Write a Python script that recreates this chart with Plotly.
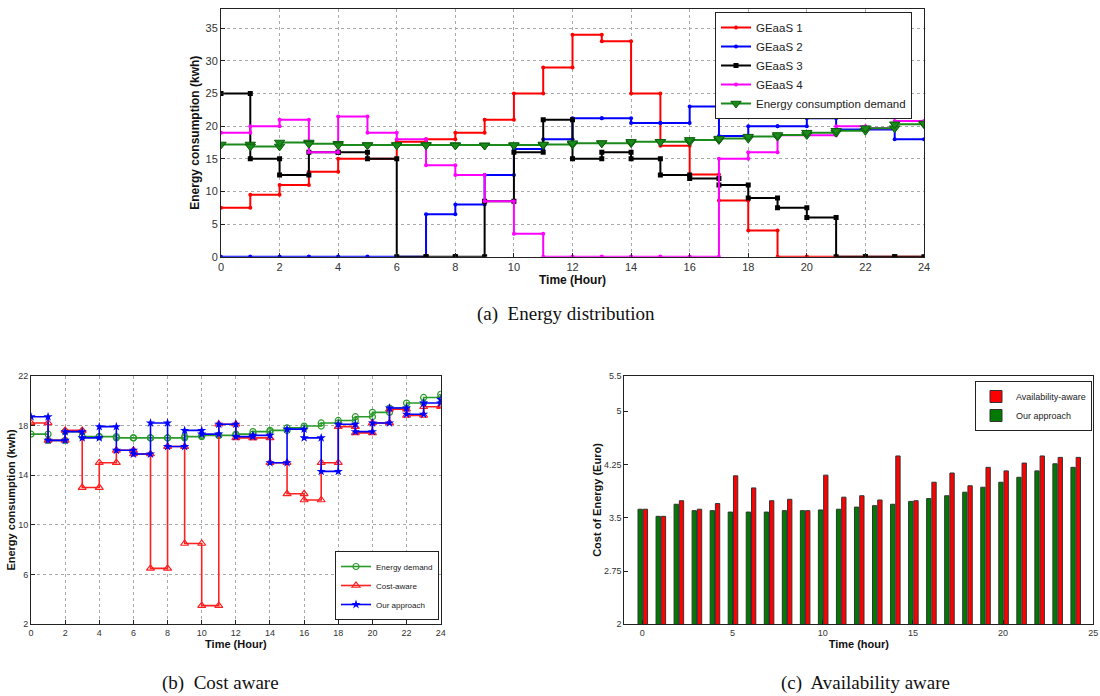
import plotly.graph_objects as go

# ---------------- data ----------------
hours_a = list(range(25))
geaas1 = [7.5, 9.5, 11, 13, 15, 15, 17.6, 18, 19, 21, 25, 29, 34, 33, 25, 17, 12.6, 8.6, 4, 0, 0, 0, 0, 0]
geaas2 = [0, 0, 0, 0, 0, 0, 0, 6.5, 8, 12.5, 16.5, 18, 21.2, 21.2, 20.5, 20.5, 23, 18.5, 20, 20, 21.2, 19.5, 19.5, 18]
geaas3 = [25, 15, 12.5, 16, 16, 15, 0, 0, 0, 8.5, 16, 21, 15, 16, 15, 12.5, 12, 11, 9, 7.5, 6, 0, 0, 0]
geaas4 = [19, 20, 21, 16, 21.5, 19, 18, 14, 12.5, 8.5, 3.5, 0, 0, 0, 0, 0, 0, 15, 16, 18.6, 18.6, 20, 19.7, 20.8]
demand_a = [17.2, 16.9, 17.5, 17.3, 17.1, 17.1, 17.1, 17.1, 17.05, 17.05, 17.1, 17.2, 17.4, 17.4, 17.6, 17.6, 17.9, 18.1, 18.4, 18.65, 19.0, 19.3, 19.7, 20.3, 20.4]

demand_b = [17.3, 16.8, 17.5, 17.1, 17.1, 17.0, 17.0, 17.0, 17.0, 17.1, 17.2, 17.2, 17.3, 17.5, 17.6, 17.8, 17.95, 18.2, 18.4, 18.7, 19.05, 19.4, 19.8, 20.25, 20.5]
cost_aware = [18.2, 16.8, 17.6, 13.0, 15.0, 16.0, 15.7, 6.5, 16.3, 8.5, 3.5, 18.1, 17.0, 17.0, 15.0, 12.5, 12.0, 15.0, 17.9, 17.4, 18.2, 19.3, 18.8, 19.5, 19.6]
our_b = [18.7, 16.8, 17.5, 17.0, 17.9, 16.0, 15.7, 18.2, 16.3, 17.6, 17.3, 18.1, 17.1, 17.2, 15.0, 17.7, 17.0, 14.3, 18.1, 17.5, 18.2, 19.4, 18.9, 19.8, 20.1]

hours_c = list(range(25))
our_c = [3.62, 3.52, 3.69, 3.60, 3.60, 3.58, 3.58, 3.58, 3.60, 3.60, 3.61, 3.62, 3.65, 3.67, 3.69, 3.73, 3.77, 3.81, 3.86, 3.93, 4.00, 4.07, 4.16, 4.26, 4.21]
avail_c = [3.62, 3.52, 3.74, 3.62, 3.70, 4.09, 3.92, 3.74, 3.76, 3.60, 4.10, 3.79, 3.81, 3.75, 4.37, 3.74, 4.00, 4.13, 3.95, 4.21, 4.16, 4.27, 4.37, 4.35, 4.35]


def stair(vals):
    """Step path with a vertex at both corners of every hour."""
    xs, ys = [], []
    n = len(vals)
    steps = n if n == 24 else n - 1
    for i in range(steps):
        xs += [i, i + 1]
        ys += [vals[i], vals[i]]
    if n == 25:
        xs.append(24)
        ys.append(vals[24])
    return xs, ys


fig = go.Figure()

# ---------------- (a) ----------------
series_a = [
    ("GEaaS 1", geaas1, "#ff0000", "circle", 4),
    ("GEaaS 2", geaas2, "#0000ff", "circle", 4),
    ("GEaaS 3", geaas3, "#000000", "square", 5),
    ("GEaaS 4", geaas4, "#ff00ff", "circle", 4),
]
for name, vals, col, sym, sz in series_a:
    xs, ys = stair(vals)
    fig.add_trace(go.Scatter(x=xs, y=ys, name=name, mode="lines+markers",
                             line=dict(color=col, width=2),
                             marker=dict(symbol=sym, size=sz, color=col),
                             xaxis="x", yaxis="y", legend="legend"))
xs, ys = stair(demand_a)
fig.add_trace(go.Scatter(x=xs, y=ys, name="Energy consumption demand", mode="lines+markers",
                         line=dict(color="#1a8a1a", width=2),
                         marker=dict(symbol="triangle-down", size=9, color="#1a8a1a",
                                     line=dict(color="#0b5e0b", width=1)),
                         xaxis="x", yaxis="y", legend="legend"))

# ---------------- (b) ----------------
xs, ys = stair(demand_b)
fig.add_trace(go.Scatter(x=xs, y=ys, name="Energy demand", mode="lines+markers",
                         line=dict(color="#2a9a2a", width=1.6),
                         marker=dict(symbol="circle-open", size=6, color="#2a9a2a", line=dict(width=1.2)),
                         xaxis="x2", yaxis="y2", legend="legend2"))
xs, ys = stair(cost_aware)
fig.add_trace(go.Scatter(x=xs, y=ys, name="Cost-aware", mode="lines+markers",
                         line=dict(color="#ff2020", width=1.6),
                         marker=dict(symbol="triangle-up-open", size=7, color="#ff2020", line=dict(width=1.2)),
                         xaxis="x2", yaxis="y2", legend="legend2"))
xs, ys = stair(our_b)
fig.add_trace(go.Scatter(x=xs, y=ys, name="Our approach", mode="lines+markers",
                         line=dict(color="#0000ff", width=1.6),
                         marker=dict(symbol="star", size=7, color="#0000ff"),
                         xaxis="x2", yaxis="y2", legend="legend2"))

# ---------------- (c) ----------------
fig.add_trace(go.Bar(x=hours_c, y=avail_c, name="Availability-aware", base=0,
                     marker=dict(color="#ff0000", line=dict(color="#333333", width=1)),
                     offset=0.05, width=0.24, xaxis="x3", yaxis="y3", legend="legend3"))
fig.add_trace(go.Bar(x=hours_c, y=our_c, name="Our approach", base=0,
                     marker=dict(color="#007a00", line=dict(color="#333333", width=1)),
                     offset=-0.24, width=0.24, xaxis="x3", yaxis="y3", legend="legend3"))

W, H = 1100, 696


def px(x):
    return x / W


def py(y):
    return 1 - y / H


axis_common = dict(showline=True, mirror=True, linecolor="#222222", linewidth=1,
                   ticks="inside", ticklen=4, tickcolor="#222222",
                   showgrid=True, gridcolor="#aaaaaa", griddash="dot", gridwidth=1,
                   zeroline=False, automargin=False)

top_font = dict(family="Liberation Sans, Arial", size=11, color="#333333")
NARROW = "Liberation Sans Narrow, Arial Narrow, Liberation Sans"
bot_font = dict(family=NARROW, size=9, color="#333333")

fig.update_layout(
    width=W, height=H, margin=dict(l=0, r=0, t=0, b=0, autoexpand=False),
    paper_bgcolor="white", plot_bgcolor="white",
    barmode="overlay",
    xaxis=dict(domain=[px(221), px(924)], range=[0, 24], anchor="y",
               tickvals=list(range(0, 25, 2)), tickfont=top_font,
               title=dict(text="<b>Time (Hour)</b>", font=dict(family="Liberation Sans, Arial", size=12, color="#111"), standoff=2),
               **axis_common),
    yaxis=dict(domain=[py(256.7), py(8.7)], range=[0, 38], anchor="x",
               tickvals=list(range(0, 36, 5)), tickfont=top_font,
               title=dict(text="<b>Energy consumption (kwh)</b>", font=dict(family="Liberation Sans, Arial", size=12, color="#111"), standoff=3),
               **axis_common),
    xaxis2=dict(domain=[px(31), px(440.7)], range=[0, 24], anchor="y2",
                tickvals=list(range(0, 25, 2)), tickfont=bot_font,
                title=dict(text="<b>Time (Hour)</b>", font=dict(family=NARROW, size=11, color="#111"), standoff=3),
                **axis_common),
    yaxis2=dict(domain=[py(624.3), py(375.7)], range=[2, 22], anchor="x2",
                tickvals=[2, 6, 10, 14, 18, 22], tickfont=bot_font,
                title=dict(text="<b>Energy consumption (kwh)</b>", font=dict(family=NARROW, size=11, color="#111"), standoff=0),
                **axis_common),
    xaxis3=dict(domain=[px(624.3), px(1093.3)], range=[-1, 25], anchor="y3",
                tickvals=[0, 5, 10, 15, 20, 25], tickfont=bot_font,
                title=dict(text="<b>Time (hour)</b>", font=dict(family=NARROW, size=11, color="#111"), standoff=3),
                **{**axis_common, "showgrid": False}),
    yaxis3=dict(domain=[py(624.3), py(375.7)], range=[2, 5.5], anchor="x3",
                tickvals=[2, 2.75, 3.5, 4.25, 5, 5.5], ticktext=["2", "2.75", "3.5", "4.25", "5", "5.5"],
                tickfont=bot_font,
                title=dict(text="<b>Cost of Energy (Euro)</b>", font=dict(family=NARROW, size=11, color="#111"), standoff=0),
                **{**axis_common, "showgrid": False}),
    legend=dict(x=px(912), y=py(12), xanchor="right", yanchor="top",
                bgcolor="white", bordercolor="#222222", borderwidth=1,
                font=dict(family="Liberation Sans, Arial", size=11.5, color="#222"),
                tracegroupgap=0, itemwidth=30),
    legend2=dict(x=px(439), y=py(620), xanchor="right", yanchor="bottom",
                 bgcolor="white", bordercolor="#222222", borderwidth=1,
                 font=dict(family=NARROW, size=8, color="#222"),
                 tracegroupgap=0, itemwidth=30),
    legend3=dict(x=px(1092), y=py(381), xanchor="right", yanchor="top",
                 bgcolor="white", bordercolor="#222222", borderwidth=1,
                 font=dict(family=NARROW, size=9, color="#222"),
                 tracegroupgap=0, itemwidth=30),
    showlegend=True,
)

cap_font = dict(family="Liberation Serif, DejaVu Serif, serif", size=19, color="#111")
fig.add_annotation(text="(a)  Energy distribution", x=px(566), y=py(314), xref="paper", yref="paper",
                   showarrow=False, font=cap_font, xanchor="center", yanchor="middle")
fig.add_annotation(text="(b)  Cost aware", x=px(220), y=py(683), xref="paper", yref="paper",
                   showarrow=False, font=cap_font, xanchor="center", yanchor="middle")
fig.add_annotation(text="(c)  Availability aware", x=px(865), y=py(683), xref="paper", yref="paper",
                   showarrow=False, font=cap_font, xanchor="center", yanchor="middle")

fig.write_html("out.html", config={"displayModeBar": False},
               post_script="document.body.style.margin='0';document.body.style.overflow='hidden';")
